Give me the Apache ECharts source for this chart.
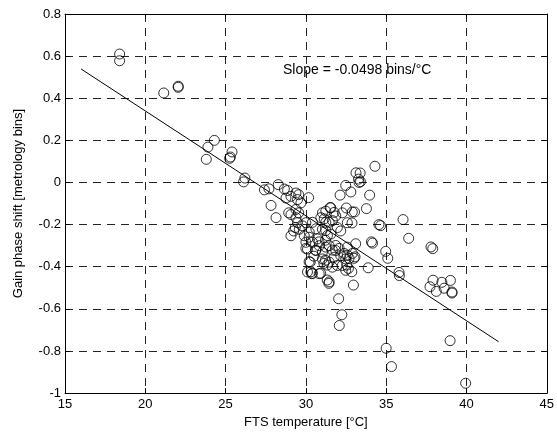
<!DOCTYPE html>
<html><head><meta charset="utf-8">
<script src="https://cdn.jsdelivr.net/npm/echarts@6/dist/echarts.min.js"></script>
<style>html,body{margin:0;padding:0;background:#fff}#c{width:557px;height:434px}</style>
</head><body><div id="c"></div>
<script>
// Tick labels
const xTicks = [15, 20, 25, 30, 35, 40, 45];
const yTicks = [-1, -0.8, -0.6, -0.4, -0.2, 0, 0.2, 0.4, 0.6, 0.8];
// Measured points: [FTS temperature (°C), gain phase shift (bins)]
const points = [
[18.4,0.61],[18.4,0.578],[21.15,0.425],[22.05,0.457],[22.05,0.452],
[24.3,0.2],[23.9,0.168],[23.8,0.11],
[25.4,0.145],[25.3,0.121],[25.25,0.115],
[26.2,0.021],[26.12,0.003],
[27.42,-0.035],[27.7,-0.03],[28.28,-0.01],
[27.83,-0.109],[28.14,-0.167],
[28.66,-0.031],[28.86,-0.038],[28.76,-0.074],[29.07,-0.066],[29.38,-0.05],[29.55,-0.058],[29.48,-0.081],[29.69,-0.097],[30.17,-0.072],
[28.93,-0.144],[29.07,-0.152],[29.38,-0.128],[29.55,-0.144],[29.38,-0.167],[29.48,-0.191],[29.34,-0.214],[29.24,-0.23],[29.07,-0.253],[29.59,-0.222],[29.79,-0.206],[30.0,-0.191],
[29.9,-0.253],[30.0,-0.284],[30.41,-0.284],[30.1,-0.316],[30.62,-0.323],[30.27,-0.378],[30.1,-0.425],[30.37,-0.433],[30.83,-0.433],[31.45,-0.472],[31.03,-0.363],
[31.03,-0.144],[31.24,-0.136],[30.93,-0.167],[31.55,-0.12],[31.86,-0.159],[32.27,-0.144],[32.17,-0.23],[32.58,-0.191],[31.03,-0.222],[31.55,-0.245],[31.96,-0.214],
[31.14,-0.173],[31.24,-0.189],[31.45,-0.189],[31.65,-0.181],[31.76,-0.142],[30.62,-0.22],[30.41,-0.189],[30.2,-0.26],[30.72,-0.268],[31.34,-0.252],[31.24,-0.228],[30.21,-0.236],
[31.45,-0.3],[31.86,-0.323],[32.17,-0.347],[32.48,-0.363],[31.76,-0.355],[31.45,-0.378],[32.27,-0.394],[31.65,-0.402],[31.96,-0.394],[32.48,-0.417],
[31.65,-0.321],[32.07,-0.313],[32.38,-0.337],[32.58,-0.345],[32.69,-0.36],[32.89,-0.337],[33.0,-0.36],[33.1,-0.291],[32.58,-0.307],[31.86,-0.299],[31.24,-0.307],[31.03,-0.331],[30.83,-0.3],[30.5,-0.35],
[31.22,-0.274],[30.82,-0.282],[30.0,-0.313],[30.61,-0.321],
[31.22,-0.369],[31.33,-0.392],[31.12,-0.384],[32.55,-0.392],[32.65,-0.408],[33.06,-0.353],[33.88,-0.405],[32.86,-0.424],[32.96,-0.487],
[30.2,-0.376],[30.31,-0.424],[30.41,-0.431],[30.92,-0.431],[31.33,-0.463],[31.43,-0.479],[32.04,-0.552],[32.24,-0.628],[32.08,-0.679],
[34.3,0.077],[33.12,0.046],[33.38,0.045],[33.28,0.016],[33.4,0.004],[33.31,0.0],
[32.48,-0.014],[32.13,-0.06],[32.8,-0.045],[33.97,-0.06],[33.77,-0.124],[32.52,-0.121],[32.89,-0.14],[33.03,-0.14],[32.87,-0.192],[31.51,-0.119],
[34.55,-0.2],[34.65,-0.205],[36.05,-0.176],[36.4,-0.265],[34.15,-0.288],[34.08,-0.282],
[34.97,-0.327],[35.1,-0.36],[35.8,-0.427],[35.82,-0.442],
[37.79,-0.306],[37.9,-0.314],
[37.92,-0.464],[38.47,-0.474],[39.0,-0.465],[37.73,-0.495],[38.12,-0.517],[38.61,-0.502],[39.1,-0.52],[39.1,-0.525],
[38.98,-0.751],[39.95,-0.953],[35.0,-0.787],[35.33,-0.874]
];
// Fitted line endpoints
const fitLine = [[16, 0.539], [42, -0.756]];
const slopeText = 'Slope = -0.0498 bins/°C';

const FONT = 'Liberation Sans, Arial, sans-serif';
const chart = echarts.init(document.getElementById('c'), null, {renderer: 'canvas'});
const gridDash = {show: true, lineStyle: {color: '#222', width: 1, type: [8, 6]}};
const fmt = v => String(+(+v).toFixed(2));
const xMin = xTicks[0], xMax = xTicks[xTicks.length - 1], xInt = xTicks[1] - xTicks[0];
const yMin = yTicks[0], yMax = yTicks[yTicks.length - 1], yInt = +(yTicks[1] - yTicks[0]).toFixed(2);
chart.setOption({
  animation: false,
  backgroundColor: '#fff',
  grid: {left: 65, right: 9, top: 14, bottom: 39, containLabel: false},
  xAxis: [{
    type: 'value', min: xMin, max: xMax, interval: xInt, position: 'bottom',
    axisLine: {show: true, onZero: false, lineStyle: {color: '#000', width: 1}},
    axisTick: {show: true, inside: true, length: 5, lineStyle: {color: '#000'}},
    axisLabel: {color: '#000', fontSize: 13, fontFamily: FONT, margin: 5, formatter: fmt},
    splitLine: gridDash,
    name: 'FTS temperature [°C]', nameLocation: 'middle', nameGap: 22,
    nameTextStyle: {color: '#000', fontSize: 13, fontFamily: FONT}
  }, {
    type: 'value', min: xMin, max: xMax, interval: xInt, position: 'top',
    axisLine: {show: true, onZero: false, lineStyle: {color: '#000', width: 1}},
    axisTick: {show: true, inside: true, length: 5, lineStyle: {color: '#000'}},
    axisLabel: {show: false}, splitLine: {show: false}
  }],
  yAxis: [{
    type: 'value', min: yMin, max: yMax, interval: yInt, position: 'left',
    axisLine: {show: true, onZero: false, lineStyle: {color: '#000', width: 1}},
    axisTick: {show: true, inside: true, length: 5, lineStyle: {color: '#000'}},
    axisLabel: {color: '#000', fontSize: 13, fontFamily: FONT, margin: 4, formatter: fmt},
    splitLine: gridDash,
    name: 'Gain phase shift [metrology bins]', nameLocation: 'middle', nameGap: 40,
    nameTextStyle: {color: '#000', fontSize: 13, fontFamily: FONT}
  }, {
    type: 'value', min: yMin, max: yMax, interval: yInt, position: 'right',
    axisLine: {show: true, onZero: false, lineStyle: {color: '#000', width: 1}},
    axisTick: {show: true, inside: true, length: 5, lineStyle: {color: '#000'}},
    axisLabel: {show: false}, splitLine: {show: false}
  }],
  graphic: [{
    type: 'text', left: 283, top: 63,
    style: {text: slopeText, fill: '#000', font: '14px ' + FONT}
  }],
  series: [{
    type: 'scatter', data: points, symbol: 'circle', symbolSize: 10,
    itemStyle: {color: 'rgba(0,0,0,0)', borderColor: '#000', borderWidth: 1},
    silent: true, z: 3
  }, {
    type: 'line', data: fitLine, symbol: 'none',
    lineStyle: {color: '#000', width: 1}, silent: true, z: 4
  }]
});
</script></body></html>
